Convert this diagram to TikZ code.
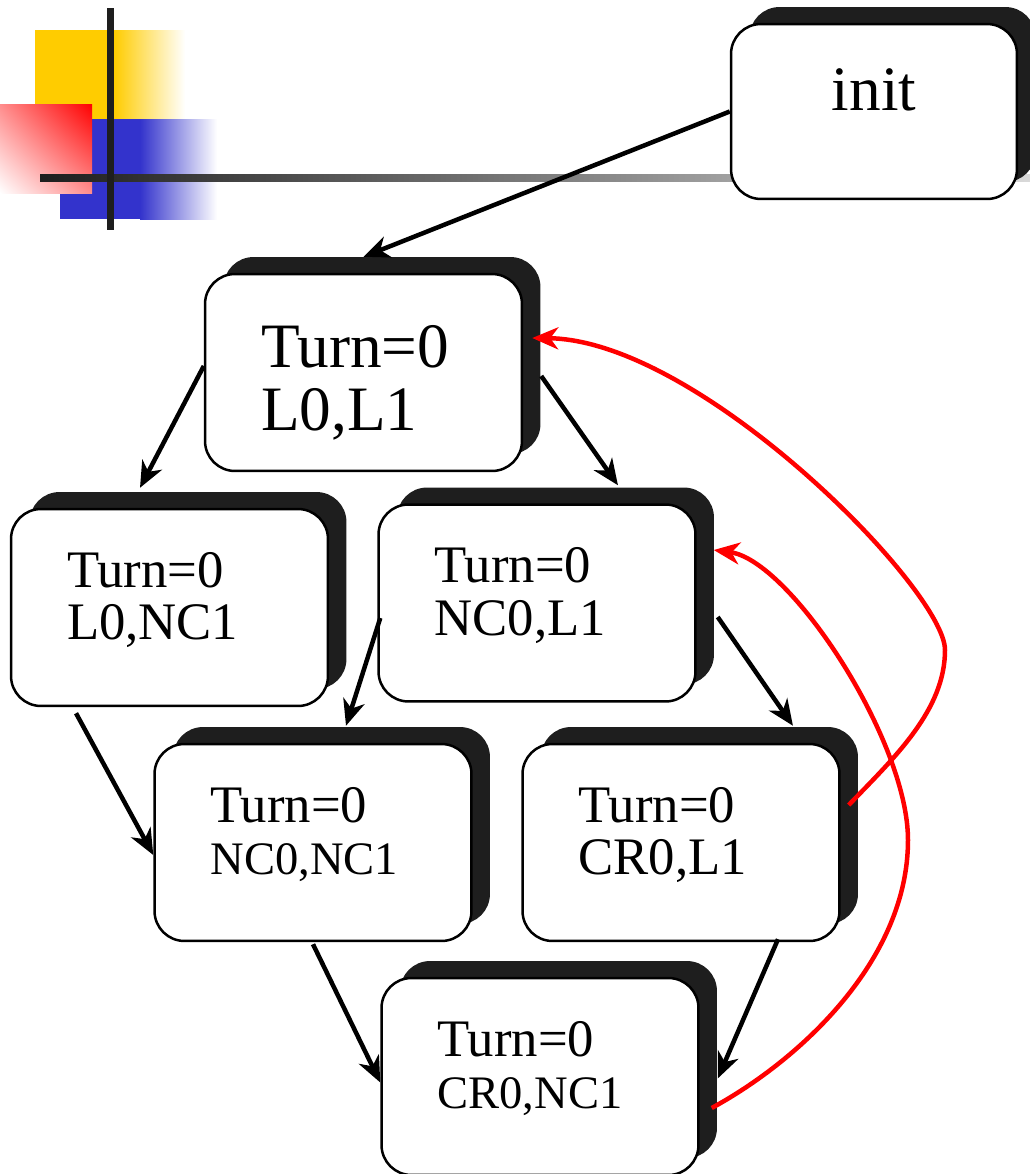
\documentclass[tikz,border=0pt]{standalone}
\usepackage{fontspec}
\setmainfont{Liberation Serif}
\usetikzlibrary{arrows.meta,shadows,shadings}
\definecolor{boxshade}{HTML}{1E1E1E}
\definecolor{tplyellow}{HTML}{FFCC00}
\definecolor{tplblue}{HTML}{3333CC}
\definecolor{tplred}{HTML}{FF0000}

\begin{document}
\begin{tikzpicture}[x=0.02cm,y=-0.02cm,
  statebox/.style={draw=black,fill=white,line width=0.05cm,rounded corners=0.6cm,
    minimum width=6.34cm,minimum height=3.94cm,text width=4.1cm,align=left,
    font=\fontsize{30}{30}\selectfont,text height=0.72cm,text depth=1.54cm,
    drop shadow={shadow xshift=0.37cm,shadow yshift=0.34cm,fill=boxshade,opacity=1}},
  bigbox/.style={statebox,font=\fontsize{36}{36}\selectfont,
    text height=0.86cm,text depth=1.08cm},
  initbox/.style={statebox,minimum width=5.72cm,minimum height=3.5cm,
    align=center,font=\fontsize{36}{36}\selectfont,
    text height=0.5cm,text depth=0.56cm},
  arr/.style={-{Stealth[length=0.52cm,width=0.44cm,inset=0.16cm]},line width=0.09cm},
  back/.style={arr,color=tplred}
]
  \useasboundingbox (0,0) rectangle (1030,1174);

  % slide template corner
  \fill[tplyellow] (35,30) rectangle (114,119);
  \shade[left color=tplyellow,right color=white] (114,30) rectangle (185,119);
  \fill[tplblue] (60,119) rectangle (140,219);
  \shade[left color=tplblue,right color=white] (140,119) rectangle (217,219);
  \shade[upper right=tplred,lower left=white,upper left=tplred!45!white,
    lower right=tplred!45!white] (0,104) rectangle (92,193);
  \shade[left color=boxshade,right color=black!15] (40,174) rectangle (1030,181);
  \fill[boxshade] (107,8) rectangle (114,230);

  \node[initbox] (init) at (874,111.5) {init};
  \node[bigbox] (s0) at (363.5,372.5) {Turn=0\\L0,L1};
  \node[statebox] (s1) at (169.5,607.5) {Turn=0\\L0,NC1};
  \node[statebox] (s2) at (537,603) {Turn=0\\NC0,L1};
  \node[statebox] (s3) at (313,842.5)
    {Turn=0\\\fontsize{26.5}{28.5}\selectfont NC0,NC1};
  \node[statebox] (s4) at (681,842.5) {Turn=0\\CR0,L1};
  \node[statebox] (s5) at (540,1076.5)
    {Turn=0\\\fontsize{26.5}{28.5}\selectfont CR0,NC1};

  \draw[arr] (init.west) -- ([yshift=0.32cm]s0.north);
  \draw[arr] ([yshift=0.13cm]s0.west) -- ([xshift=-0.59cm,yshift=0.4cm]s1.north);
  \draw[arr] ([xshift=0.36cm,yshift=-0.07cm]s0.east)
    -- ([xshift=1.62cm,yshift=0.36cm]s2.north);
  \draw[arr] ([xshift=0.06cm,yshift=-0.3cm]s2.west)
    -- ([xshift=0.66cm,yshift=0.34cm]s3.north);
  \draw[arr] ([xshift=0.42cm,yshift=-0.28cm]s2.east)
    -- ([xshift=2.24cm,yshift=0.34cm]s4.north);
  \draw[arr] ([xshift=-1.87cm,yshift=-0.12cm]s1.south) -- ([yshift=-0.25cm]s3.west);
  \draw[arr] ([yshift=-0.04cm]s3.south) -- ([yshift=-0.12cm]s5.west);
  \draw[arr] ([xshift=1.94cm,yshift=0.06cm]s4.south)
    -- ([xshift=0.36cm,yshift=-0.04cm]s5.east);

  % back edges
  \draw[back] ([xshift=0.16cm,yshift=0.75cm]s4.east)
    .. controls (895,757) and (945,710) .. (945,650)
    .. controls (945,590) and (700,340) .. ([xshift=0.18cm,yshift=0.69cm]s0.east);
  \draw[back] ([xshift=0.24cm,yshift=-0.63cm]s5.east)
    .. controls (800,1060) and (908,960) .. (908,840)
    .. controls (908,740) and (790,560) .. ([xshift=0.34cm,yshift=1.06cm]s2.east);
\end{tikzpicture}
\end{document}
